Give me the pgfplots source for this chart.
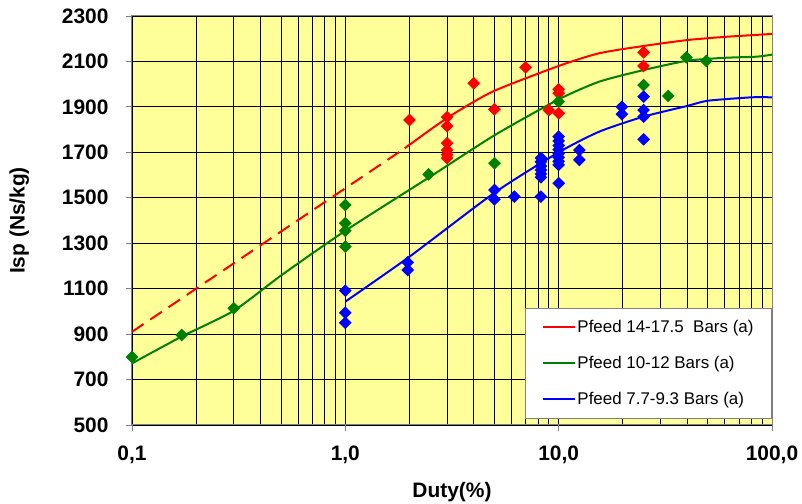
\documentclass[border=0pt]{standalone}
\usepackage{pgfplots}
\pgfplotsset{compat=1.18}
\usepackage{fontspec}
\setmainfont{Liberation Sans}
\usetikzlibrary{calc}
\definecolor{bgyellow}{HTML}{FFFF99}
\definecolor{cred}{HTML}{FF0000}
\definecolor{cgreen}{HTML}{008000}
\definecolor{cblue}{HTML}{0000FF}
\begin{document}
\begin{tikzpicture}
\begin{axis}[
  name=ax,
  scale only axis,
  width=640bp, height=409bp,
  xmode=log, xmin=0.1, xmax=100,
  ymin=500, ymax=2300,
  xtick={0.1,1,10,100},
  xticklabels={{0,1},{1,0},{10,0},{100,0}},
  ytick={500,700,900,1100,1300,1500,1700,1900,2100,2300},
  yticklabels={500,700,900,1100,1300,1500,1700,1900,2100,2300},
  xtick pos=bottom, ytick pos=left,
  tick align=outside,
  major tick length=6bp, minor tick length=0bp,
  tick style={gray, line width=0.8bp},
  xmajorgrids, xminorgrids, ymajorgrids,
  grid style={black, line width=0.9bp},
  minor grid style={black, line width=0.9bp},
  axis line style={gray, line width=1bp},
  axis background/.style={fill=bgyellow},
  ticklabel style={font=\fontsize{21}{24}\selectfont\bfseries},
  yticklabel style={xshift=-14bp},
  xticklabel style={yshift=-11bp},
  xlabel={Duty(\%)},
  ylabel={Isp (Ns/kg)},
  label style={font=\fontsize{21}{24}\selectfont\bfseries},
  xlabel style={yshift=-12bp},
  ylabel style={yshift=26bp},
  legend style={at={(rel axis cs:1,0.015)}, anchor=south east,
    draw=gray, line width=1bp, fill=white,
    font=\fontsize{17}{19}\selectfont,
    inner xsep=17bp, inner ysep=11bp, row sep=20.5bp,
    nodes={inner sep=1bp}},
  legend cell align=left,
  legend image code/.code={\draw[#1, line width=2bp] (0bp,0bp) -- (32bp,0bp);},
  every axis plot/.append style={line width=2bp},
]
% fitted curves
\addplot[cred, no marks, dash pattern=on 14bp off 8bp, forget plot] coordinates {(0.1,910) (1.9,1718)};
\addplot[cred, no marks, smooth, tension=0.4] coordinates {
(1.9,1718) (3,1851) (4.9,1967) (10,2080) (15.5,2136) (25,2168) (40,2194) (60,2208) (100,2221)};
\addlegendentry{Pfeed 14-17.5\ \ Bars (a)}
\addplot[cgreen, no marks, smooth, tension=0.4] coordinates {
(0.1,771) (0.17,888) (0.3,1003) (0.5,1158) (1,1355) (2.5,1593) (5,1775) (10,1933) (15.5,2011) (25,2062) (40,2103) (60,2116) (85,2121) (100,2130)};
\addlegendentry{Pfeed 10-12 Bars (a)}
\addplot[cblue, no marks, smooth, tension=0.4] coordinates {
(1,1043) (2,1241) (5,1522) (10,1700) (15.5,1791) (25,1857) (40,1904) (50,1927) (80,1942) (100,1942)};
\addlegendentry{Pfeed 7.7-9.3 Bars (a)}
% measured points
\addplot[only marks, mark=square*, mark size=3.5bp, color=cred, mark options={rotate=45}, forget plot] coordinates {
(2,1842) (3,1855) (3,1815) (3,1740) (3,1710) (3,1690) (3,1675) (4,2004) (5,1889) (7,2074) (9,1886) (10,1977) (10,1960) (10,1872) (25,2140) (25,2080)};
\addplot[only marks, mark=square*, mark size=3.5bp, color=cgreen, mark options={rotate=45}, forget plot] coordinates {
(0.1,799) (0.171,896) (0.3,1014) (1,1468) (1,1388) (1,1355) (1,1285) (2.46,1603) (5,1652) (10,1923) (25,1996) (32.6,1948) (39.7,2118) (49.2,2102)};
\addplot[only marks, mark=square*, mark size=3.5bp, color=cblue, mark options={rotate=45}, forget plot] coordinates {
(1,1091) (1,994) (1,950) (1.96,1216) (1.96,1182) (5,1534) (5,1493) (6.2,1505) (8.26,1505)
(8.26,1675) (8.26,1658) (8.26,1640) (8.26,1622) (8.26,1605) (8.26,1590)
(10,1769) (10,1750) (10,1730) (10,1712) (10,1695) (10,1678) (10,1660) (10,1645) (10,1564)
(12.5,1710) (12.5,1667) (19.8,1900) (19.8,1868) (25,1945) (25,1886) (25,1857) (25,1757)};
\end{axis}
\pgfresetboundingbox
\path ($(ax.south west)+(-132bp,-79bp)$) rectangle ($(ax.north east)+(30bp,16bp)$);
\end{tikzpicture}
\end{document}
